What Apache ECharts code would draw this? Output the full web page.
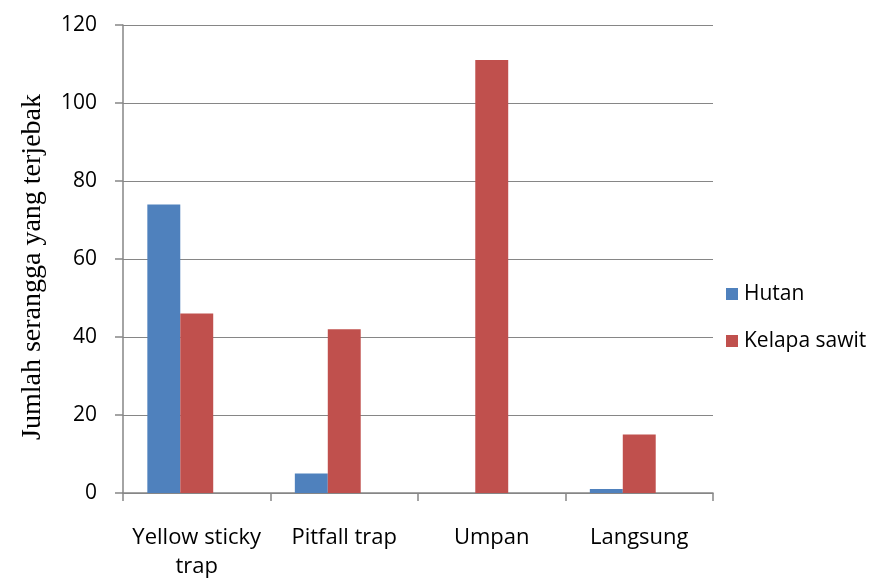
<!DOCTYPE html>
<html>
<head>
<meta charset="utf-8">
<script src="https://cdn.jsdelivr.net/npm/echarts@6/dist/echarts.min.js"></script>
<style>
  html, body { margin: 0; padding: 0; background: #fff; }
  #chart { width: 882px; height: 581px; }
</style>
</head>
<body>
<div id="chart"></div>
<script>
// Trap methods and insect counts per habitat
const categories = ['Yellow sticky\ntrap', 'Pitfall trap', 'Umpan', 'Langsung'];
const hutan = [74, 5, 0, 1];
const kelapaSawit = [46, 42, 111, 15];
// third slot in each group is left empty (reserved series with no values)
const reserved = [null, null, null, null];
const yTicks = { min: 0, max: 120, interval: 20 };

const axisGray = '#868686';
const textFont = '"Open Sans", "Noto Sans", sans-serif';

const chart = echarts.init(document.getElementById('chart'));
chart.setOption({
  animation: false,
  backgroundColor: '#ffffff',
  grid: { left: 123, right: 169, top: 25, bottom: 87, containLabel: false },
  legend: {
    orient: 'vertical',
    left: 721,
    top: 277,
    itemWidth: 12,
    itemHeight: 12,
    itemGap: 23,
    icon: 'rect',
    textStyle: { fontFamily: textFont, fontSize: 21, lineHeight: 24, color: '#000', padding: [0, 0, 0, 1] },
    data: ['Hutan', 'Kelapa sawit']
  },
  xAxis: {
    type: 'category',
    data: categories,
    axisLine: { show: true, lineStyle: { color: axisGray, width: 1.5 } },
    axisTick: { show: true, length: 8, alignWithLabel: false, lineStyle: { color: axisGray, width: 1.5 } },
    axisLabel: {
      interval: 0,
      margin: 30,
      fontFamily: textFont,
      fontSize: 22,
      color: '#000',
      lineHeight: 29
    }
  },
  yAxis: {
    type: 'value',
    min: yTicks.min,
    max: yTicks.max,
    interval: yTicks.interval,
    name: 'Jumlah serangga yang terjebak',
    nameLocation: 'middle',
    nameGap: 76,
    nameTextStyle: {
      fontFamily: '"Liberation Serif", "DejaVu Serif", serif',
      fontSize: 28,
      color: '#000',
      padding: [0, 16, 0, 0]
    },
    axisLine: { show: true, lineStyle: { color: axisGray, width: 1.5 } },
    axisTick: { show: true, length: 8, lineStyle: { color: axisGray, width: 1.5 } },
    splitLine: { show: true, lineStyle: { color: axisGray, width: 1.2 } },
    axisLabel: { margin: 26, fontFamily: textFont, fontSize: 21, color: '#000' }
  },
  series: [
    {
      name: 'Hutan',
      type: 'bar',
      data: hutan,
      barGap: '0%',
      barCategoryGap: '33%',
      itemStyle: { color: '#4F81BD' }
    },
    {
      name: 'Kelapa sawit',
      type: 'bar',
      data: kelapaSawit,
      barGap: '0%',
      barCategoryGap: '33%',
      itemStyle: { color: '#C0504D' }
    },
    {
      name: 'reserved',
      type: 'bar',
      data: reserved,
      barGap: '0%',
      barCategoryGap: '33%',
      itemStyle: { color: 'transparent' }
    }
  ]
});
</script>
</body>
</html>
